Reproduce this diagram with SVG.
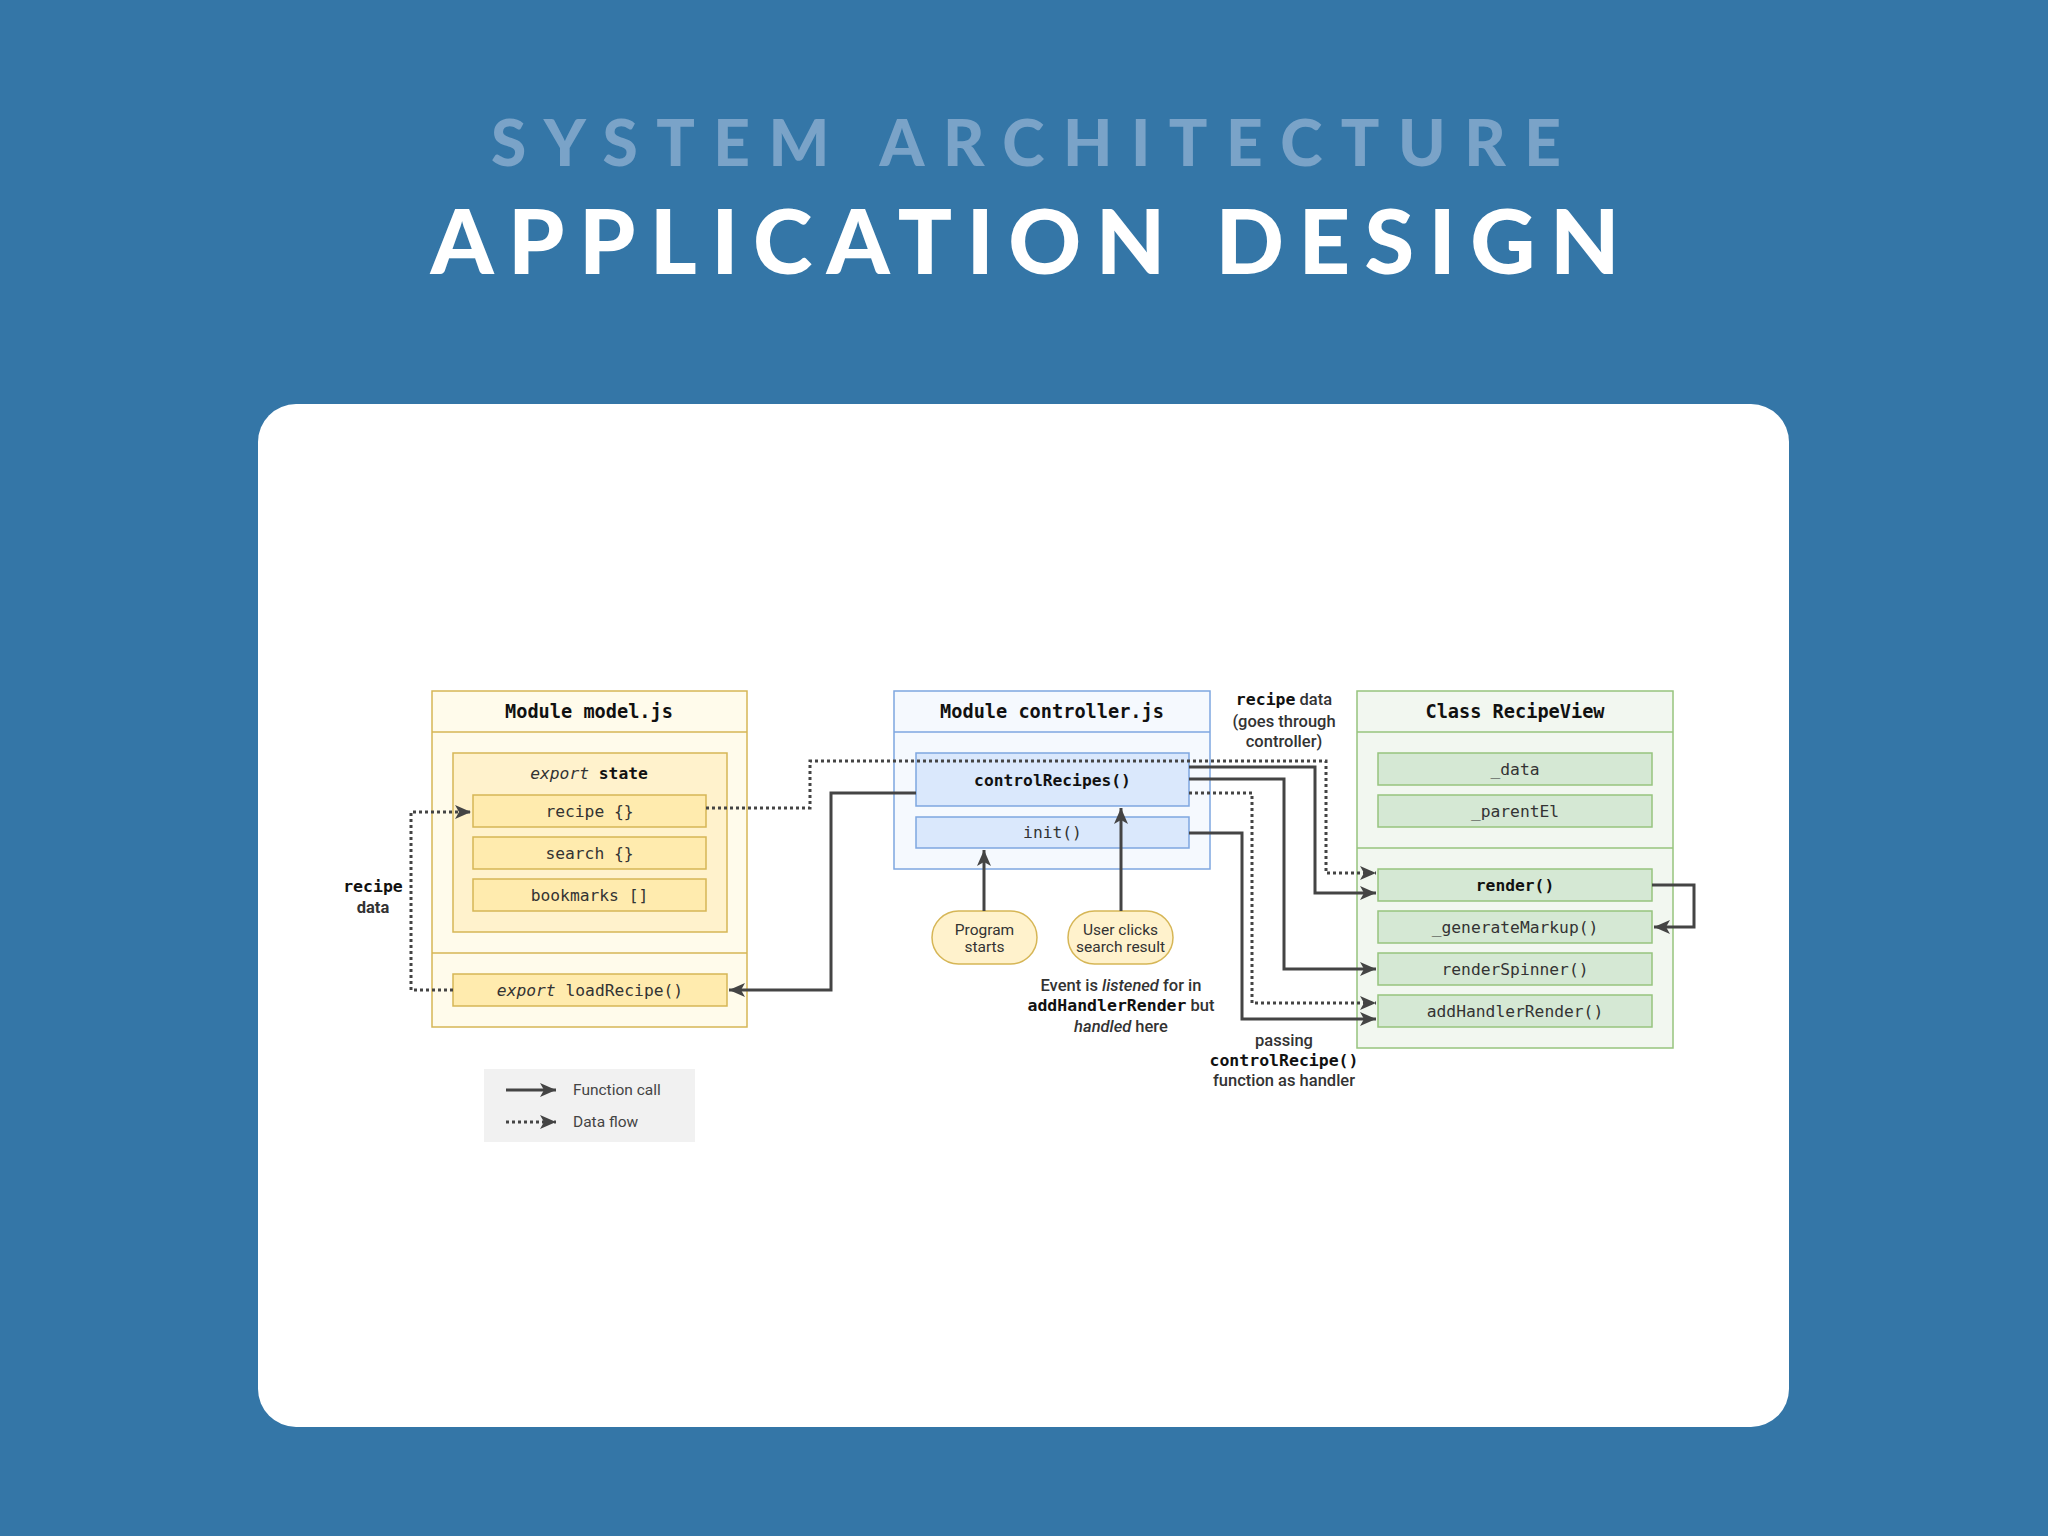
<svg xmlns="http://www.w3.org/2000/svg" width="2048" height="1536" viewBox="0 0 2048 1536">
<defs>
<marker id="arr" markerUnits="userSpaceOnUse" markerWidth="18" markerHeight="16" refX="16" refY="8" orient="auto">
<path d="M0,1 L16,8 L0,15 L4,8 Z" fill="#444"/>
</marker>
<style>
.mono{font-family:"DejaVu Sans Mono","Liberation Mono",monospace;}
.sans{font-family:Roboto,"Liberation Sans",Arial,sans-serif;}
.hdr{font-size:18.6px;font-weight:bold;fill:#111;text-anchor:middle;}
.it{font-size:16.3px;fill:#333;text-anchor:middle;}
.lbl{font-size:16.5px;font-weight:500;fill:#333;text-anchor:middle;}
.ybox{fill:#FFFBEB;stroke:#D6B656;stroke-width:1.5;}
.ystate{fill:#FFF2CC;stroke:#D6B656;stroke-width:1.5;}
.yitem{fill:#FFEBAE;stroke:#D6B656;stroke-width:1.5;}
.bbox{fill:#F5F9FE;stroke:#7EA6E0;stroke-width:1.5;}
.bitem{fill:#DAE8FC;stroke:#7EA6E0;stroke-width:1.5;}
.gbox{fill:#F2F7F0;stroke:#97C47E;stroke-width:1.5;}
.gitem{fill:#D5E8D4;stroke:#97C47E;stroke-width:1.5;}
.sep{fill:none;stroke-width:1.5;}
.call{fill:none;stroke:#444;stroke-width:3;}
.flow{fill:none;stroke:#444;stroke-width:3;stroke-dasharray:3 3;}
</style>
</defs>
<rect x="0" y="0" width="2048" height="1536" fill="#3476A7"/>
<text x="1026" y="166" font-family="Lato,'Open Sans',sans-serif" font-weight="900" font-size="64" fill="#7AA3C8" textLength="1070" lengthAdjust="spacing" text-anchor="middle">SYSTEM ARCHITECTURE</text>
<text x="1025" y="274" font-family="Lato,'Open Sans',sans-serif" font-weight="900" font-size="90" fill="#FFFFFF" textLength="1189" lengthAdjust="spacing" text-anchor="middle">APPLICATION DESIGN</text>
<rect x="258" y="404" width="1531" height="1023" rx="38" ry="38" fill="#FFFFFF"/>

<g id="model">
<rect class="ybox" x="432" y="691" width="315" height="336"/>
<line class="sep" x1="432" y1="732" x2="747" y2="732" stroke="#D6B656"/>
<line class="sep" x1="432" y1="953" x2="747" y2="953" stroke="#D6B656"/>
<text class="mono hdr" x="589" y="718">Module model.js</text>
<g id="state">
<rect class="ystate" x="453" y="753" width="274" height="179"/>
<text class="mono it" x="589" y="779"><tspan font-style="italic">export</tspan> <tspan font-weight="bold" fill="#111">state</tspan></text>
</g>
<g id="recipe"><rect class="yitem" x="473" y="795" width="233" height="32"/><text class="mono it" x="589.5" y="817">recipe {}</text></g>
<g id="search"><rect class="yitem" x="473" y="837" width="233" height="32"/><text class="mono it" x="589.5" y="859">search {}</text></g>
<g id="bookmarks"><rect class="yitem" x="473" y="879" width="233" height="32"/><text class="mono it" x="589.5" y="901">bookmarks []</text></g>
<g id="loadRecipe"><rect class="yitem" x="453" y="974" width="274" height="32"/><text class="mono it" x="590" y="996"><tspan font-style="italic">export</tspan> loadRecipe()</text></g>
</g>

<g id="controller">
<rect class="bbox" x="894" y="691" width="316" height="178"/>
<line class="sep" x1="894" y1="732" x2="1210" y2="732" stroke="#7EA6E0"/>
<text class="mono hdr" x="1052" y="718">Module controller.js</text>
<g id="controlRecipes"><rect class="bitem" x="916" y="753" width="273" height="53"/><text class="mono it" x="1052.5" y="786" style="font-weight:bold;fill:#111">controlRecipes()</text></g>
<g id="init"><rect class="bitem" x="916" y="817" width="273" height="31"/><text class="mono it" x="1052.5" y="838">init()</text></g>
</g>

<g id="programStarts">
<rect x="932" y="911" width="105" height="53" rx="26.5" ry="26.5" fill="#FFF2CC" stroke="#D6B656" stroke-width="1.5"/>
<text class="sans" x="984.5" y="935" font-size="15.5" fill="#333" text-anchor="middle">Program</text>
<text class="sans" x="984.5" y="952" font-size="15.5" fill="#333" text-anchor="middle">starts</text>
</g>
<g id="userClicks">
<rect x="1068" y="911" width="105" height="53" rx="26.5" ry="26.5" fill="#FFF2CC" stroke="#D6B656" stroke-width="1.5"/>
<text class="sans" x="1120.5" y="935" font-size="15.5" fill="#333" text-anchor="middle">User clicks</text>
<text class="sans" x="1120.5" y="952" font-size="15.5" fill="#333" text-anchor="middle">search result</text>
</g>

<g id="recipeView">
<rect class="gbox" x="1357" y="691" width="316" height="357"/>
<line class="sep" x1="1357" y1="732" x2="1673" y2="732" stroke="#97C47E"/>
<line class="sep" x1="1357" y1="848" x2="1673" y2="848" stroke="#97C47E"/>
<text class="mono hdr" x="1515" y="718">Class RecipeView</text>
<g id="data"><rect class="gitem" x="1378" y="753" width="274" height="32"/><text class="mono it" x="1515" y="775">_data</text></g>
<g id="parentEl"><rect class="gitem" x="1378" y="795" width="274" height="32"/><text class="mono it" x="1515" y="817">_parentEl</text></g>
<g id="render"><rect class="gitem" x="1378" y="869" width="274" height="32"/><text class="mono it" x="1515" y="891" style="font-weight:bold;fill:#111">render()</text></g>
<g id="generateMarkup"><rect class="gitem" x="1378" y="911" width="274" height="32"/><text class="mono it" x="1515" y="933">_generateMarkup()</text></g>
<g id="renderSpinner"><rect class="gitem" x="1378" y="953" width="274" height="32"/><text class="mono it" x="1515" y="975">renderSpinner()</text></g>
<g id="addHandlerRender"><rect class="gitem" x="1378" y="995" width="274" height="32"/><text class="mono it" x="1515" y="1017">addHandlerRender()</text></g>
</g>

<g id="connectors">
<polyline class="flow" points="706,808 810,808 810,761 1326,761 1326,873 1376,873" marker-end="url(#arr)"/>
<polyline class="call" points="1189,767 1315,767 1315,893 1376,893" marker-end="url(#arr)"/>
<polyline class="call" points="1189,779 1284,779 1284,969 1376,969" marker-end="url(#arr)"/>
<polyline class="flow" points="1189,793 1252,793 1252,1003 1376,1003" marker-end="url(#arr)"/>
<polyline class="call" points="1189,833 1242,833 1242,1019 1376,1019" marker-end="url(#arr)"/>
<polyline class="call" points="916,793 831,793 831,990 729,990" marker-end="url(#arr)"/>
<polyline class="flow" points="453,990 411,990 411,812 471,812" marker-end="url(#arr)"/>
<polyline class="call" points="984,911 984,850" marker-end="url(#arr)"/>
<polyline class="call" points="1121,911 1121,808" marker-end="url(#arr)"/>
<polyline class="call" points="1652,885 1694,885 1694,927 1654,927" marker-end="url(#arr)"/>
</g>

<g id="labels">
<text class="lbl" x="373" y="892"><tspan class="mono" font-weight="bold" fill="#111">recipe</tspan></text>
<text class="sans lbl" x="373" y="913" style="font-weight:bold">data</text>
<text class="sans lbl" x="1284" y="705"><tspan class="mono" font-weight="bold" fill="#111">recipe</tspan> data</text>
<text class="sans lbl" x="1284" y="727">(goes through</text>
<text class="sans lbl" x="1284" y="747">controller)</text>
<text class="sans lbl" x="1121" y="991">Event is <tspan font-style="italic">listened</tspan> for in</text>
<text class="sans lbl" x="1121" y="1011"><tspan class="mono" font-weight="bold" fill="#111">addHandlerRender</tspan> but</text>
<text class="sans lbl" x="1121" y="1032"><tspan font-style="italic">handled</tspan> here</text>
<text class="sans lbl" x="1284" y="1046">passing</text>
<text class="sans lbl" x="1284" y="1066"><tspan class="mono" font-weight="bold" fill="#111">controlRecipe()</tspan></text>
<text class="sans lbl" x="1284" y="1086">function as handler</text>
</g>

<g id="legend">
<rect x="484" y="1069" width="211" height="73" fill="#F1F1F1"/>
<line class="call" x1="506" y1="1090" x2="556" y2="1090" marker-end="url(#arr)"/>
<line class="flow" x1="506" y1="1122" x2="556" y2="1122" marker-end="url(#arr)"/>
<text class="sans" x="573" y="1095" font-size="15.5" fill="#444">Function call</text>
<text class="sans" x="573" y="1127" font-size="15.5" fill="#444">Data flow</text>
</g>
</svg>
